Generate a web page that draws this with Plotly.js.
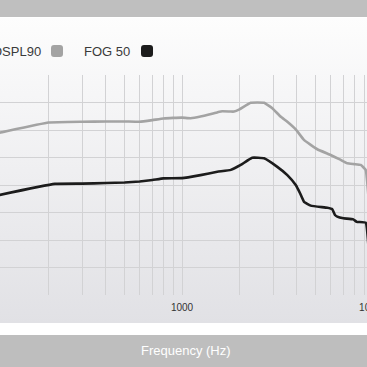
<!DOCTYPE html>
<html>
<head>
<meta charset="utf-8">
<script src="https://cdn.plot.ly/plotly-3.0.1.min.js"></script>
<style>
html,body{margin:0;padding:0;width:367px;height:367px;overflow:hidden;background:#ffffff;position:relative;font-family:"Liberation Sans",Arial,sans-serif;}
#topband{position:absolute;left:0;top:0;width:367px;height:17px;background:#bfbfbf;}
#panel{position:absolute;left:0;top:18px;width:367px;height:305px;background:linear-gradient(#fdfdfd,#e1e1e5);}
#botband{position:absolute;left:0;top:335px;width:367px;height:32px;background:#bebebe;}
#chart{position:absolute;left:-29px;top:0;width:422px;height:367px;}
</style>
</head>
<body>
<div id="topband"></div>
<div id="panel"></div>
<div id="botband"></div>
<div id="chart"></div>
<script>
// Frequency (Hz) and level (dB)
const osplFreq = [100, 111, 200, 300, 400, 500, 600, 700, 800, 900, 1000, 1110, 1250, 1530, 1625, 1800, 1873, 2000, 2290, 2690, 2970, 3290, 3560, 3940, 4350, 4720, 5110, 6000, 6700, 7335, 8000, 8624, 9158, 9500];
const osplVals = [108.4, 109.0, 112.7, 113.0, 113.1, 113.1, 113.0, 113.6, 114.2, 114.4, 114.5, 114.3, 114.9, 116.4, 116.8, 116.7, 116.7, 117.5, 119.9, 119.9, 117.9, 114.8, 113.0, 110.2, 106.4, 104.6, 103.0, 100.9, 99.3, 97.9, 97.6, 97.3, 95.5, 84.5];
const fogFreq = [100, 111, 216, 300, 400, 500, 600, 700, 800, 1000, 1250, 1530, 1800, 2030, 2330, 2690, 3155, 3560, 3940, 4150, 4353, 4720, 5765, 6120, 6324, 6500, 7000, 7887, 8217, 9158, 9500];
const fogVals = [85.7, 86.4, 90.4, 90.5, 90.7, 90.9, 91.3, 91.8, 92.4, 92.5, 93.6, 94.8, 95.5, 97.3, 99.9, 99.7, 96.6, 93.6, 90.0, 87.0, 83.9, 82.5, 81.7, 81.2, 79.1, 78.5, 77.9, 77.5, 76.6, 76.3, 66.4];
const seriesNames = ["OSPL90", "FOG 50"];
const seriesColors = ["#a3a3a3", "#1c1c1c"];
const xTickVals = [100, 200, 300, 400, 500, 600, 700, 800, 900, 1000, 2000, 3000, 4000, 5000, 6000, 7000, 8000, 9000, 10000];
const xTickText = ["100", "", "", "", "", "", "", "", "", "1000", "", "", "", "", "", "", "", "", "10000"];
const yTickVals = [60, 70, 80, 90, 100, 110, 120];
const xTitle = "Frequency (Hz)";

const traces = [
  {x: osplFreq, y: osplVals, name: seriesNames[0], type: "scatter", mode: "lines",
   line: {color: seriesColors[0], width: 2.6, shape: "spline", smoothing: 0.3}},
  {x: fogFreq, y: fogVals, name: seriesNames[1], type: "scatter", mode: "lines",
   line: {color: seriesColors[1], width: 2.6, shape: "spline", smoothing: 0.3}}
];

function sq(cx, color){
  return {type: "path", xref: "paper", yref: "paper", xsizemode: "pixel", ysizemode: "pixel",
    xanchor: cx, yanchor: 1.109,
    path: "M -3,-6 L 3,-6 Q 6,-6 6,-3 L 6,3 Q 6,6 3,6 L -3,6 Q -6,6 -6,3 L -6,-3 Q -6,-6 -3,-6 Z",
    fillcolor: color, line: {width: 0}};
}

const layout = {
  width: 422, height: 367,
  margin: {l: 20, r: 20, t: 75, b: 72, pad: 0},
  paper_bgcolor: "rgba(0,0,0,0)",
  plot_bgcolor: "rgba(0,0,0,0)",
  showlegend: false,
  font: {family: "Liberation Sans, Arial, sans-serif", color: "#333333"},
  xaxis: {type: "log", range: [2, 4], tickmode: "array", tickvals: xTickVals, ticktext: xTickText,
    showgrid: true, gridcolor: "#d2d2d4", gridwidth: 1, zeroline: false, showline: false,
    ticks: "", ticklabelstandoff: 5, tickfont: {size: 10, color: "#333333"}, fixedrange: true},
  yaxis: {range: [50, 130], tickmode: "array", tickvals: yTickVals, showticklabels: false,
    showgrid: true, gridcolor: "#d2d2d4", gridwidth: 1, zeroline: false, showline: false, ticks: ""},
  annotations: [
    {text: seriesNames[0], xref: "paper", yref: "paper", x: 0.1361, y: 1.109, xanchor: "right", yanchor: "middle",
     showarrow: false, font: {size: 13, color: "#3a3a3a"}},
    {text: seriesNames[1], xref: "paper", yref: "paper", x: 0.3691, y: 1.109, xanchor: "right", yanchor: "middle",
     showarrow: false, font: {size: 13, color: "#3a3a3a"}},
    {text: xTitle, xref: "paper", yref: "paper", x: 0.5105, y: -0.2545, xanchor: "center", yanchor: "middle",
     showarrow: false, font: {size: 13, color: "#ffffff"}}
  ],
  shapes: [sq(0.1728, seriesColors[0]), sq(0.4084, seriesColors[1])]
};

Plotly.newPlot("chart", traces, layout, {displayModeBar: false, staticPlot: true});
</script>
</body>
</html>
